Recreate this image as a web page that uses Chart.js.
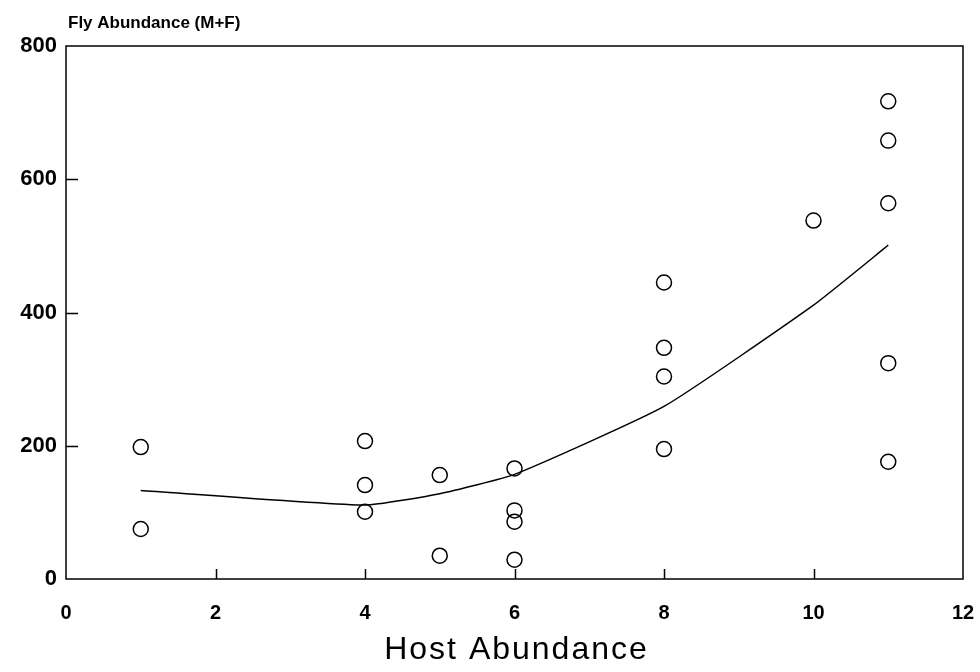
<!DOCTYPE html>
<html>
<head>
<meta charset="utf-8">
<title>Fly vs Host Abundance</title>
<script src="https://cdn.jsdelivr.net/npm/chart.js@4/dist/chart.umd.min.js"></script>
<style>
  html, body { margin: 0; padding: 0; background: #fff; }
  #wrap { width: 980px; height: 672px; position: relative; }
</style>
</head>
<body>
<div id="wrap"><canvas id="c" width="980" height="672"></canvas></div>
<script>
// observed samples
const hostX = [1, 1, 4, 4, 4, 5, 5, 6, 6, 6, 6, 8, 8, 8, 8, 10, 11, 11, 11, 11, 11];
const flyY  = [198, 75, 207, 141, 101, 156, 35, 166, 103, 86, 29, 445, 347, 304, 195, 538, 717, 658, 564, 324, 176];

// fitted curve
const fitX = [1, 4, 5, 6, 8, 10, 11];
const fitY = [133, 111, 128, 157, 259, 411, 501];

const xTicks = [0, 2, 4, 6, 8, 10, 12];
const yTicks = [0, 200, 400, 600, 800];

const xTitle = 'Host Abundance';
const yTitle = 'Fly Abundance (M+F)';

const FONT = "'Liberation Sans', Arial, Helvetica, sans-serif";

// frame, inward tick marks and axis titles
const framePlugin = {
  id: 'frame',
  afterDraw(chart){
    const ctx = chart.ctx;
    const a = chart.chartArea;
    const xs = chart.scales.x, ys = chart.scales.y;
    ctx.save();
    ctx.strokeStyle = '#000';
    ctx.lineWidth = 1.5;
    ctx.strokeRect(a.left, a.top, a.right - a.left, a.bottom - a.top);
    ctx.beginPath();
    xTicks.slice(1, -1).forEach(v=>{
      const px = Math.round(xs.getPixelForValue(v)) + 0.5;
      ctx.moveTo(px, a.bottom); ctx.lineTo(px, a.bottom - 10);
    });
    yTicks.slice(1, -1).forEach(v=>{
      const py = Math.round(ys.getPixelForValue(v)) + 0.5;
      ctx.moveTo(a.left, py); ctx.lineTo(a.left + 12, py);
    });
    ctx.stroke();

    ctx.fillStyle = '#000';
    ctx.textBaseline = 'alphabetic';
    ctx.font = 'bold 17px ' + FONT;
    ctx.textAlign = 'left';
    ctx.fillText(yTitle, a.left + 2, 28);

    ctx.font = '32px ' + FONT;
    ctx.letterSpacing = '2px';
    ctx.textAlign = 'center';
    ctx.fillText(xTitle, (a.left + a.right) / 2 + 2, 659);
    ctx.restore();
  }
};

new Chart(document.getElementById('c'), {
  type: 'scatter',
  data: {
    datasets: [
      {
        label: 'observed',
        data: hostX.map((x, i)=>({x: x, y: flyY[i]})),
        pointStyle: 'circle',
        pointRadius: 7.5,
        pointBorderWidth: 1.5,
        pointBorderColor: '#000',
        pointBackgroundColor: 'rgba(255,255,255,0)',
        showLine: false
      },
      {
        label: 'fit',
        data: fitX.map((x, i)=>({x: x, y: fitY[i]})),
        showLine: true,
        borderColor: '#000',
        borderWidth: 1.5,
        pointRadius: 0,
        tension: 0.15,
        fill: false
      }
    ]
  },
  options: {
    responsive: false,
    animation: false,
    layout: { padding: { top: 46, right: 17, left: 0, bottom: 0 } },
    plugins: { legend: { display: false }, tooltip: { enabled: false } },
    scales: {
      x: {
        type: 'linear', min: 0, max: 12,
        afterBuildTicks: s => { s.ticks = xTicks.map(v=>({value: v})); },
        ticks: { color: '#000', font: { family: FONT, size: 20, weight: 'bold' }, padding: 22, maxRotation: 0 },
        grid: { display: false, drawTicks: false },
        border: { display: false },
        afterFit: s => { s.height = 93; s.paddingLeft = 0; s.paddingRight = 0; }
      },
      y: {
        type: 'linear', min: 0, max: 800,
        afterBuildTicks: s => { s.ticks = yTicks.map(v=>({value: v})); },
        ticks: { color: '#000', font: { family: FONT, size: 22, weight: 'bold' }, padding: 9 },
        grid: { display: false, drawTicks: false },
        border: { display: false },
        afterFit: s => { s.width = 66; s.paddingTop = 0; s.paddingBottom = 0; }
      }
    }
  },
  plugins: [framePlugin]
});
</script>
</body>
</html>
